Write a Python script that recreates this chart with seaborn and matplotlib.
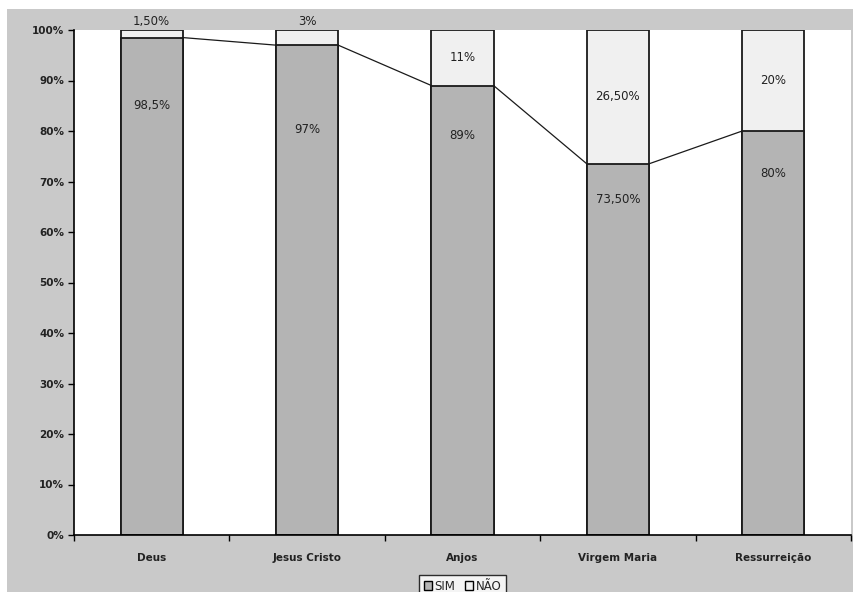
import matplotlib
matplotlib.use("Agg")
import matplotlib.pyplot as plt
import seaborn as sns
import pandas as pd
import numpy as np
from matplotlib.patches import Rectangle

# ---- data ----
categories = ["Deus", "Jesus Cristo", "Anjos", "Virgem Maria", "Ressurreição"]
sim = [98.5, 97, 89, 73.5, 80]
nao = [1.5, 3, 11, 26.5, 20]
sim_labels = ["98,5%", "97%", "89%", "73,50%", "80%"]
nao_labels = ["1,50%", "3%", "11%", "26,50%", "20%"]
sim_label_y = [85.1, 80.2, 79.2, 66.5, 71.5]   # where the SIM labels sit (data units)
yticks = list(range(0, 101, 10))
ytick_labels = [f"{v}%" for v in yticks]
series_names = ["SIM", "NÃO"]

# ---- style ----
sns.set_theme(style="white")
plt.rcParams["font.family"] = ["DejaVu Sans"]

C_SIM = "#b4b4b4"
C_NAO = "#f0f0f0"
C_BG = "#c9c9c9"

fig = plt.figure(figsize=(8.54, 5.92), dpi=100, facecolor="white")
bg = Rectangle((7 / 854, 0), 1 - 7 / 854, 1 - 9 / 592,
               transform=fig.transFigure, facecolor=C_BG,
               edgecolor="none", zorder=-10)
fig.add_artist(bg)
ax = fig.add_axes([74 / 854, 57 / 592, 777 / 854, 505 / 592])
ax.set_zorder(1)
ax.set_facecolor("white")

df = pd.DataFrame({"cat": categories, "sim": sim,
                   "total": [s + n for s, n in zip(sim, nao)]})

sns.barplot(data=df, x="cat", y="total", color=C_NAO, width=0.4,
            edgecolor="#1a1a1a", linewidth=1.3, saturation=1, ax=ax)
sns.barplot(data=df, x="cat", y="sim", color=C_SIM, width=0.4,
            edgecolor="#1a1a1a", linewidth=1.3, saturation=1, ax=ax)

# series lines between SIM tops
half = 0.2
for i in range(len(categories) - 1):
    ax.plot([i + half, i + 1 - half], [sim[i], sim[i + 1]],
            color="#1a1a1a", lw=0.9, zorder=3, clip_on=False)

# labels
for i in range(len(categories)):
    ax.text(i, sim_label_y[i], sim_labels[i], ha="center", va="center",
            fontsize=8.5, color="#222222")
    if nao[i] < 5:
        ny = 101.7
    else:
        ny = sim[i] + nao[i] / 2
    ax.text(i, ny, nao_labels[i], ha="center", va="center",
            fontsize=8.5, color="#222222", clip_on=False)

ax.set_xlim(-0.5, len(categories) - 0.5)
ax.set_ylim(0, 100)
ax.set_yticks(yticks)
ax.set_yticklabels(ytick_labels, fontsize=7.5, fontweight="bold", color="#222222")
ax.set_xticks(range(len(categories)))
ax.set_xticklabels(categories, fontsize=7.5, fontweight="bold", color="#222222")
ax.set_xticks(np.arange(-0.5, len(categories), 1.0), minor=True)
ax.tick_params(axis="x", which="major", length=0, pad=13)
ax.tick_params(axis="x", which="minor", length=4, width=1, direction="out",
               color="black", bottom=True)
ax.tick_params(axis="y", length=4, width=1, direction="out", color="black",
               left=True, pad=3)
ax.set_xlabel("")
ax.set_ylabel("")

for s in ["top", "right"]:
    ax.spines[s].set_visible(False)
for s in ["left", "bottom"]:
    ax.spines[s].set_color("black")
    ax.spines[s].set_linewidth(1.2)

handles = [Rectangle((0, 0), 1, 1, facecolor=C_SIM, edgecolor="black", lw=1),
           Rectangle((0, 0), 1, 1, facecolor=C_NAO, edgecolor="black", lw=1)]
leg = fig.legend(handles, series_names, loc="upper center",
                 bbox_to_anchor=(462.5 / 854, 1 - 575 / 592), ncol=2,
                 fontsize=8.5, frameon=True, fancybox=False,
                 handlelength=0.7, handleheight=0.7, handletextpad=0.2,
                 columnspacing=0.8, borderpad=0.4, borderaxespad=0)
leg.get_frame().set_edgecolor("black")
leg.get_frame().set_facecolor("white")
leg.get_frame().set_linewidth(1)

fig.savefig("out.png", dpi=100, facecolor="white")
